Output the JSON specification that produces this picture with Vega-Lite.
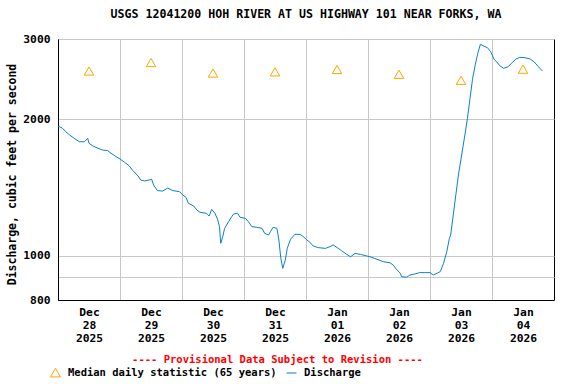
{
  "$schema": "https://vega.github.io/schema/vega-lite/v6.json",
  "width": 496,
  "height": 261,
  "autosize": {"type": "none"},
  "padding": {"left": 58, "top": 39, "right": 22, "bottom": 84},
  "background": "white",
  "title": {"text": "USGS 12041200 HOH RIVER AT US HIGHWAY 101 NEAR FORKS, WA", "font": "DejaVu Sans Mono", "fontSize": 11.6, "fontWeight": "bold", "anchor": "middle", "frame": "group", "offset": 12, "color": "black"},
  "config": {
    "view": {"stroke": "black", "strokeWidth": 1},
    "font": "DejaVu Sans Mono",
    "legend": {"orient": "none", "legendX": -8, "legendY": 328, "direction": "horizontal", "labelFont": "DejaVu Sans Mono", "labelFontSize": 10.5, "labelFontWeight": "bold", "labelColor": "black", "symbolSize": 100, "symbolStrokeWidth": 1, "labelOffset": 7, "columnPadding": 7, "padding": 0, "labelLimit": 400}
  },
  "datasets": {
    "discharge": [
      {"time": "2025-12-28T00:00", "cfs": 1931},
      {"time": "2025-12-28T01:45", "cfs": 1909},
      {"time": "2025-12-28T03:00", "cfs": 1876},
      {"time": "2025-12-28T04:30", "cfs": 1845},
      {"time": "2025-12-28T06:15", "cfs": 1814},
      {"time": "2025-12-28T08:15", "cfs": 1783},
      {"time": "2025-12-28T10:15", "cfs": 1783},
      {"time": "2025-12-28T11:30", "cfs": 1814},
      {"time": "2025-12-28T12:00", "cfs": 1769},
      {"time": "2025-12-28T13:30", "cfs": 1745},
      {"time": "2025-12-28T15:30", "cfs": 1725},
      {"time": "2025-12-28T17:15", "cfs": 1710},
      {"time": "2025-12-28T19:15", "cfs": 1704},
      {"time": "2025-12-28T20:30", "cfs": 1682},
      {"time": "2025-12-28T22:30", "cfs": 1653},
      {"time": "2025-12-29T00:00", "cfs": 1634},
      {"time": "2025-12-29T01:45", "cfs": 1607},
      {"time": "2025-12-29T03:30", "cfs": 1579},
      {"time": "2025-12-29T05:00", "cfs": 1540},
      {"time": "2025-12-29T07:00", "cfs": 1499},
      {"time": "2025-12-29T08:00", "cfs": 1469},
      {"time": "2025-12-29T09:30", "cfs": 1462},
      {"time": "2025-12-29T11:15", "cfs": 1469},
      {"time": "2025-12-29T12:15", "cfs": 1474},
      {"time": "2025-12-29T13:00", "cfs": 1432},
      {"time": "2025-12-29T14:30", "cfs": 1392},
      {"time": "2025-12-29T16:30", "cfs": 1389},
      {"time": "2025-12-29T18:30", "cfs": 1410},
      {"time": "2025-12-29T20:30", "cfs": 1392},
      {"time": "2025-12-29T23:00", "cfs": 1385},
      {"time": "2025-12-30T00:15", "cfs": 1362},
      {"time": "2025-12-30T01:30", "cfs": 1346},
      {"time": "2025-12-30T02:30", "cfs": 1305},
      {"time": "2025-12-30T04:30", "cfs": 1288},
      {"time": "2025-12-30T05:45", "cfs": 1262},
      {"time": "2025-12-30T07:00", "cfs": 1247},
      {"time": "2025-12-30T09:30", "cfs": 1241},
      {"time": "2025-12-30T10:30", "cfs": 1224},
      {"time": "2025-12-30T11:30", "cfs": 1266},
      {"time": "2025-12-30T12:45", "cfs": 1241},
      {"time": "2025-12-30T13:45", "cfs": 1204},
      {"time": "2025-12-30T14:30", "cfs": 1160},
      {"time": "2025-12-30T15:00", "cfs": 1066},
      {"time": "2025-12-30T15:45", "cfs": 1102},
      {"time": "2025-12-30T16:30", "cfs": 1150},
      {"time": "2025-12-30T18:00", "cfs": 1189},
      {"time": "2025-12-30T19:15", "cfs": 1220},
      {"time": "2025-12-30T20:00", "cfs": 1237},
      {"time": "2025-12-30T21:30", "cfs": 1241},
      {"time": "2025-12-30T22:30", "cfs": 1216},
      {"time": "2025-12-31T00:30", "cfs": 1210},
      {"time": "2025-12-31T01:45", "cfs": 1189},
      {"time": "2025-12-31T03:00", "cfs": 1160},
      {"time": "2025-12-31T05:00", "cfs": 1156},
      {"time": "2025-12-31T07:00", "cfs": 1150},
      {"time": "2025-12-31T08:00", "cfs": 1121},
      {"time": "2025-12-31T09:30", "cfs": 1112},
      {"time": "2025-12-31T10:15", "cfs": 1131},
      {"time": "2025-12-31T11:15", "cfs": 1156},
      {"time": "2025-12-31T12:45", "cfs": 1150},
      {"time": "2025-12-31T13:30", "cfs": 1084},
      {"time": "2025-12-31T14:15", "cfs": 988},
      {"time": "2025-12-31T15:00", "cfs": 939},
      {"time": "2025-12-31T16:00", "cfs": 980},
      {"time": "2025-12-31T16:45", "cfs": 1039},
      {"time": "2025-12-31T18:00", "cfs": 1088},
      {"time": "2025-12-31T19:45", "cfs": 1116},
      {"time": "2025-12-31T21:45", "cfs": 1115},
      {"time": "2025-12-31T22:45", "cfs": 1106},
      {"time": "2026-01-01T00:00", "cfs": 1088},
      {"time": "2026-01-01T01:30", "cfs": 1072},
      {"time": "2026-01-01T02:45", "cfs": 1052},
      {"time": "2026-01-01T04:45", "cfs": 1043},
      {"time": "2026-01-01T07:30", "cfs": 1039},
      {"time": "2026-01-01T09:15", "cfs": 1048},
      {"time": "2026-01-01T10:30", "cfs": 1057},
      {"time": "2026-01-01T12:30", "cfs": 1039},
      {"time": "2026-01-01T13:45", "cfs": 1027},
      {"time": "2026-01-01T15:45", "cfs": 1008},
      {"time": "2026-01-01T17:15", "cfs": 996},
      {"time": "2026-01-01T19:00", "cfs": 1013},
      {"time": "2026-01-01T21:00", "cfs": 1008},
      {"time": "2026-01-01T23:30", "cfs": 1000},
      {"time": "2026-01-02T01:30", "cfs": 993},
      {"time": "2026-01-02T03:30", "cfs": 983},
      {"time": "2026-01-02T06:00", "cfs": 971},
      {"time": "2026-01-02T08:30", "cfs": 966},
      {"time": "2026-01-02T09:45", "cfs": 955},
      {"time": "2026-01-02T11:00", "cfs": 935},
      {"time": "2026-01-02T12:30", "cfs": 916},
      {"time": "2026-01-02T13:00", "cfs": 900},
      {"time": "2026-01-02T15:00", "cfs": 898},
      {"time": "2026-01-02T16:15", "cfs": 908},
      {"time": "2026-01-02T18:15", "cfs": 913},
      {"time": "2026-01-02T20:00", "cfs": 919},
      {"time": "2026-01-02T22:00", "cfs": 919},
      {"time": "2026-01-03T00:00", "cfs": 919},
      {"time": "2026-01-03T01:15", "cfs": 908},
      {"time": "2026-01-03T02:45", "cfs": 916},
      {"time": "2026-01-03T04:00", "cfs": 924},
      {"time": "2026-01-03T05:15", "cfs": 963},
      {"time": "2026-01-03T06:30", "cfs": 1022},
      {"time": "2026-01-03T07:30", "cfs": 1093},
      {"time": "2026-01-03T08:00", "cfs": 1112},
      {"time": "2026-01-03T09:00", "cfs": 1230},
      {"time": "2026-01-03T10:00", "cfs": 1362},
      {"time": "2026-01-03T11:00", "cfs": 1507},
      {"time": "2026-01-03T12:15", "cfs": 1667},
      {"time": "2026-01-03T13:30", "cfs": 1845},
      {"time": "2026-01-03T14:30", "cfs": 2008},
      {"time": "2026-01-03T15:30", "cfs": 2222},
      {"time": "2026-01-03T16:30", "cfs": 2459},
      {"time": "2026-01-03T17:30", "cfs": 2630},
      {"time": "2026-01-03T18:30", "cfs": 2790},
      {"time": "2026-01-03T19:30", "cfs": 2921},
      {"time": "2026-01-03T20:30", "cfs": 2900},
      {"time": "2026-01-03T22:15", "cfs": 2870},
      {"time": "2026-01-03T23:30", "cfs": 2813},
      {"time": "2026-01-04T00:45", "cfs": 2711},
      {"time": "2026-01-04T01:45", "cfs": 2674},
      {"time": "2026-01-04T03:00", "cfs": 2621},
      {"time": "2026-01-04T04:30", "cfs": 2586},
      {"time": "2026-01-04T06:15", "cfs": 2607},
      {"time": "2026-01-04T07:30", "cfs": 2652},
      {"time": "2026-01-04T09:15", "cfs": 2711},
      {"time": "2026-01-04T10:45", "cfs": 2734},
      {"time": "2026-01-04T12:45", "cfs": 2729},
      {"time": "2026-01-04T14:45", "cfs": 2711},
      {"time": "2026-01-04T16:15", "cfs": 2674},
      {"time": "2026-01-04T18:00", "cfs": 2607},
      {"time": "2026-01-04T19:30", "cfs": 2551}
    ],
    "median": [
      {"time": "2025-12-28T12:00", "cfs": 2551, "series": "Median daily statistic (65 years)"},
      {"time": "2025-12-29T12:00", "cfs": 2663, "series": "Median daily statistic (65 years)"},
      {"time": "2025-12-30T12:00", "cfs": 2525, "series": "Median daily statistic (65 years)"},
      {"time": "2025-12-31T12:00", "cfs": 2540, "series": "Median daily statistic (65 years)"},
      {"time": "2026-01-01T12:00", "cfs": 2571, "series": "Median daily statistic (65 years)"},
      {"time": "2026-01-02T12:00", "cfs": 2509, "series": "Median daily statistic (65 years)"},
      {"time": "2026-01-03T12:00", "cfs": 2434, "series": "Median daily statistic (65 years)"},
      {"time": "2026-01-04T12:00", "cfs": 2575, "series": "Median daily statistic (65 years)"}
    ]
  },
  "encoding": {
    "x": {
      "field": "time", "type": "temporal",
      "scale": {"domain": [{"year": 2025, "month": 12, "date": 28}, {"year": 2026, "month": 1, "date": 5}]},
      "axis": {
        "values": [
          {"year": 2025, "month": 12, "date": 28}, {"year": 2025, "month": 12, "date": 29},
          {"year": 2025, "month": 12, "date": 30}, {"year": 2025, "month": 12, "date": 31},
          {"year": 2026, "month": 1, "date": 1}, {"year": 2026, "month": 1, "date": 2},
          {"year": 2026, "month": 1, "date": 3}, {"year": 2026, "month": 1, "date": 4}
        ],
        "labelExpr": "[timeFormat(datum.value, '%b'), timeFormat(datum.value, '%d'), timeFormat(datum.value, '%Y')]",
        "ticks": false, "domain": true, "domainColor": "black",
        "grid": true, "gridColor": "#c8c8c8", "gridWidth": 1,
        "labelOffset": 31, "labelPadding": 6, "labelFont": "DejaVu Sans Mono", "labelFontSize": 11.3, "labelFontWeight": "bold",
        "labelColor": "black", "labelLineHeight": 13, "labelBaseline": "top", "labelAlign": "center",
        "labelOverlap": false, "labelFlush": false, "labelBound": false,
        "title": "---- Provisional Data Subject to Revision ----",
        "titleColor": "#ff0000", "titleFont": "DejaVu Sans Mono", "titleFontSize": 10.5, "titleFontWeight": "bold",
        "titleX": 219, "titleY": 59, "titleAlign": "center", "titleBaseline": "middle"
      }
    },
    "y": {
      "field": "cfs", "type": "quantitative",
      "scale": {"type": "log", "domain": [800, 3000], "nice": false},
      "axis": {
        "values": [800, 900, 1000, 2000, 3000],
        "labelExpr": "datum.value == 900 ? '' : format(datum.value, 'd')",
        "ticks": false, "domain": true, "domainColor": "black",
        "grid": true, "gridColor": "#c8c8c8", "gridWidth": 1,
        "labelPadding": 8, "labelFont": "DejaVu Sans Mono", "labelFontSize": 11.3, "labelFontWeight": "bold", "labelColor": "black",
        "labelOverlap": false, "labelFlush": false, "labelBound": false,
        "title": "Discharge, cubic feet per second",
        "titleColor": "black", "titleFont": "DejaVu Sans Mono", "titleFontSize": 11.5, "titleFontWeight": "bold",
        "titleX": -46, "titleY": 135, "titleAngle": 270, "titleAlign": "center", "titleBaseline": "middle"
      }
    }
  },
  "layer": [
    {
      "data": {"name": "discharge"},
      "mark": {"type": "line", "color": "#0a7fd0", "strokeWidth": 1}
    },
    {
      "data": {"name": "median"},
      "mark": {"type": "point", "filled": false, "size": 90, "strokeWidth": 1, "opacity": 1},
      "encoding": {
        "color": {"field": "series", "type": "nominal",
          "scale": {"domain": ["Median daily statistic (65 years)", "Discharge"], "range": ["#FFA500", "#0a7fd0"]},
          "legend": {"title": null}},
        "shape": {"field": "series", "type": "nominal",
          "scale": {"domain": ["Median daily statistic (65 years)", "Discharge"], "range": ["triangle-up", "stroke"]},
          "legend": {"title": null}}
      }
    }
  ]
}
